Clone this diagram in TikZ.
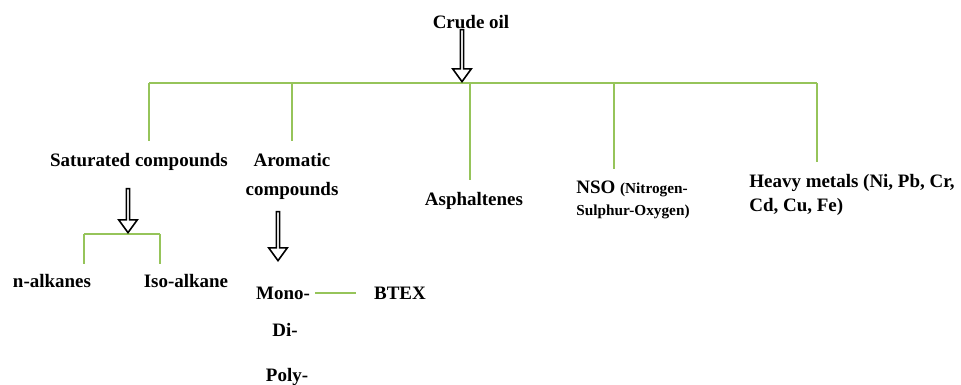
\documentclass[tikz,border=0pt]{standalone}
\usepackage{fontspec}
\setmainfont{Liberation Serif}
\usepackage{tikz}
\usetikzlibrary{shapes.arrows, positioning, calc}
\definecolor{branchgreen}{RGB}{150,196,90}

\begin{document}
\begin{tikzpicture}[
        x=0.02cm, y=-0.02cm,
        lbl/.style={font=\fontsize{10.8}{14}\selectfont\bfseries, inner sep=0pt},
        hollow/.style={single arrow, draw=black, line width=0.9pt, fill=white, inner sep=0pt,
            minimum width=0.37cm, single arrow head extend=0.075cm, single arrow tip angle=72,
            shape border rotate=270, anchor=tip},
        branch/.style={draw=branchgreen, line width=0.8pt},
        drop/.style={branch, shorten >=0.24cm}
    ]
        \useasboundingbox (0,0) rectangle (961,385);

        % ================= NODES =================

        % Root
        \node[lbl] (crude) at (471,22) {Crude oil};

        % Main groups
        \node[lbl] (sat) at (139,162) {Saturated compounds};
        \node[lbl, align=center] (arom) at (292,176) {Aromatic\\[2.5pt]compounds};
        \node[lbl] (asph) at (474,201) {Asphaltenes};
        \node[lbl, align=left, anchor=west] (nso) at (576,200)
            {NSO {\fontsize{8.7}{14}\selectfont(Nitrogen-}\\[-1.5pt]{\fontsize{8.7}{14}\selectfont Sulphur-Oxygen)}};
        \node[lbl, align=left, anchor=west] (metals) at (749,195)
            {Heavy metals (Ni, Pb, Cr,\\Cd, Cu, Fe)};

        % Saturated sub-groups
        \node[lbl] (nalk) at (52,281) {n-alkanes};
        \node[lbl] (isoalk) at (186,281) {Iso-alkane};

        % Aromatic sub-groups
        \node[lbl] (mono) at (283,293) {Mono-};
        \node[lbl] (btex) at (400,293) {BTEX};
        \node[lbl] (di) at (285,330) {Di-};
        \node[lbl] (poly) at (287,377) {Poly-};

        % ================= BRANCHES =================

        % Main bar
        \coordinate (b1) at (149,83);
        \coordinate (b2) at (292,83);
        \coordinate (b3) at (470,83);
        \coordinate (b4) at (614,83);
        \coordinate (b5) at (817,83);
        \draw[branch] (b1) -- (b5);
        \draw[drop] (b1) -- (b1 |- sat.north);
        \draw[drop] (b2) -- (b2 |- arom.north);
        \draw[drop] (b3) -- (b3 |- asph.north);
        \draw[drop] (b4) -- (b4 |- nso.north);
        \draw[drop] (b5) -- (b5 |- metals.north);

        % Saturated bar
        \coordinate (s1) at (84,234);
        \coordinate (s2) at (160,234);
        \draw[branch] (s1) -- (s2);
        \draw[branch, shorten >=0.2cm] (s1) -- (s1 |- nalk.north);
        \draw[branch, shorten >=0.2cm] (s2) -- (s2 |- isoalk.north);

        % Mono to BTEX
        \draw[branch, shorten <=0.1cm, shorten >=0.36cm] (mono) -- (btex);

        % ================= ARROWS =================
        \node[hollow, minimum height=1.04cm] (a0) at (462,83) {};
        \node[hollow, minimum height=0.88cm] (a1) at (128,234) {};
        \node[hollow, minimum height=0.98cm] (a2) at (278,262) {};

    \end{tikzpicture}
\end{document}
